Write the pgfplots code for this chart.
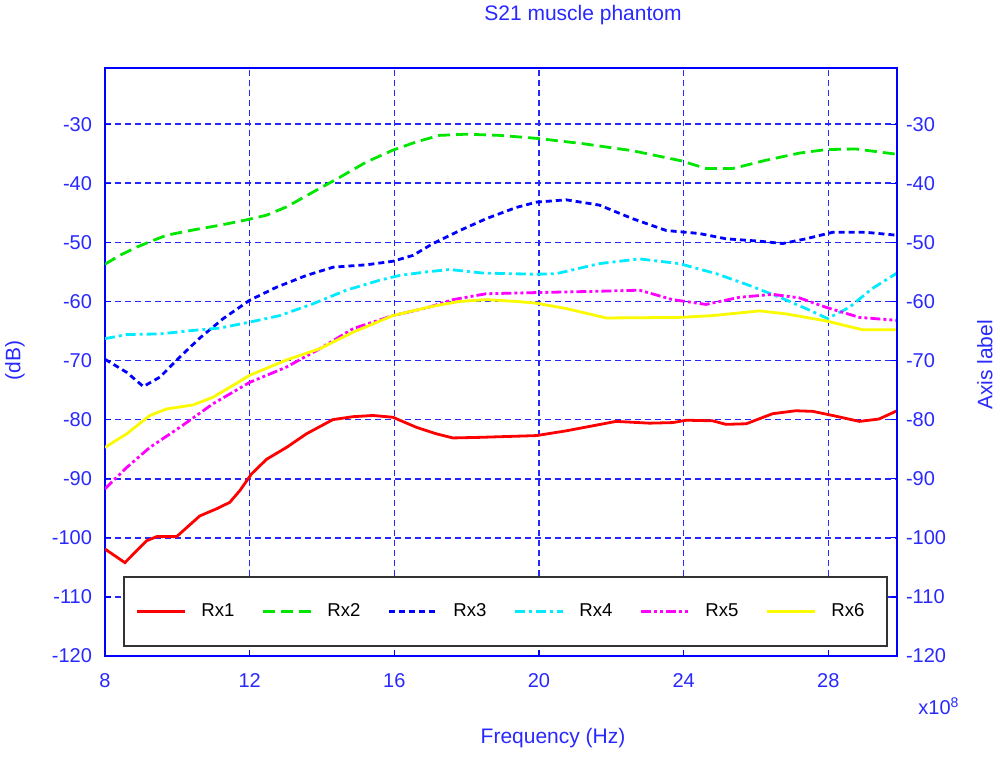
\documentclass[border=0pt]{standalone}
\usepackage{pgfplots}
\pgfplotsset{compat=1.18}
\usepackage{fontspec}
\setmainfont{Liberation Sans}
\definecolor{txtblue}{RGB}{40,40,255}
\definecolor{axblue}{RGB}{0,0,255}
\definecolor{cgreen}{RGB}{0,230,0}
\definecolor{ccyan}{RGB}{0,235,255}
\definecolor{cmag}{RGB}{255,0,255}
\definecolor{cyel}{RGB}{250,250,0}
\definecolor{cred}{RGB}{255,0,0}
\begin{document}
\begin{tikzpicture}
\path[use as bounding box] (-52.5pt,-50pt) rectangle (447.5pt,328pt);
\pgfplotsset{
  common/.style={
    at={(0,0)}, anchor=south west,
    scale only axis, width=396pt, height=294pt,
    xmin=8, xmax=29.9, ymin=-120, ymax=-20.5,
    ytick={-120,-110,...,-30},
    xtick={8,12,16,20,24,28},
    /pgf/number format/assume math mode=true,
    tick label style={font=\fontsize{10}{12}\selectfont, text=txtblue},
    axis line style={axblue, line width=0.9pt},
    tick style={axblue, line width=0.6pt},
    major tick length=3pt,
    tick align=inside,
  }
}
\begin{axis}[common,
  grid=major,
  major grid style={color=axblue!85, line width=0.8pt, dash pattern=on 3pt off 2pt},
  xticklabel style={yshift=-5pt},
  yticklabel style={xshift=-3pt},
  ytick pos=left, xtick pos=bottom,
  title={S21 muscle phantom},
  every axis title/.style={at={(axis description cs:0.6035,1.09)}, anchor=center, font=\fontsize{10.5}{12}\selectfont, text=txtblue},
  xlabel={Frequency (Hz)},
  xlabel style={at={(axis description cs:0.5657,-0.1395)}, anchor=center, font=\fontsize{10.5}{12}\selectfont, text=txtblue},
  ylabel={(dB)},
  ylabel style={at={(axis description cs:-0.1136,0.503)}, anchor=center, rotate=0, font=\fontsize{10.5}{12}\selectfont, text=txtblue},
  legend columns=6,
  legend image code/.code={\draw[#1] (0pt,0pt) -- (24pt,0pt);},
  legend style={at={(axis description cs:0.506,0.0757)}, anchor=center,
    draw=black!80, line width=1pt, fill=white,
    inner xsep=6pt, inner ysep=13.5pt,
    font=\fontsize{9.3}{11}\selectfont,
    nodes={inner sep=0pt, text width=22pt, align=left},
    /tikz/every odd column/.append style={column sep=7.3pt},
    /tikz/every even column/.append style={column sep=8.3pt}},
  every axis plot/.append style={line width=1.4pt},
]
\addplot[cred, solid] coordinates {
(8,-101.9) (8.55,-104.2) (9.15,-100.5) (9.43,-99.8) (9.98,-99.8) (10.62,-96.3) (11.08,-95.1) (11.45,-94.0) (11.73,-92.0) (12.05,-89.2) (12.47,-86.7) (13.02,-84.7) (13.57,-82.4) (14.3,-80.0) (14.86,-79.5) (15.41,-79.3) (15.96,-79.6) (16.61,-81.3) (17.16,-82.4) (17.62,-83.1) (18.36,-83.0) (19.93,-82.7) (20.75,-81.9) (22.13,-80.3) (23.06,-80.6) (23.70,-80.5) (24.07,-80.1) (24.80,-80.2) (25.17,-80.8) (25.73,-80.7) (26.46,-79.0) (27.1,-78.5) (27.57,-78.6) (28.12,-79.3) (28.86,-80.3) (29.4,-79.9) (29.9,-78.5)
};
\addlegendentry{Rx1}
\addplot[cgreen, dash pattern=on 6pt off 3pt] coordinates {
(8,-53.7) (8.41,-52.2) (8.88,-50.8) (9.24,-49.9) (9.70,-48.8) (10.44,-47.9) (11.18,-47.1) (11.91,-46.2) (12.47,-45.4) (13.02,-44.0) (13.75,-41.5) (14.49,-39.0) (15.23,-36.4) (15.96,-34.4) (16.61,-33.0) (17.25,-31.9) (17.99,-31.7) (18.91,-31.9) (19.93,-32.4) (21.21,-33.3) (22.59,-34.5) (23.93,-36.2) (24.62,-37.5) (25.36,-37.5) (26.28,-36.1) (27.2,-34.9) (27.94,-34.3) (28.76,-34.2) (29.9,-35.1)
};
\addlegendentry{Rx2}
\addplot[axblue, dash pattern=on 3pt off 2pt] coordinates {
(8,-69.8) (8.14,-70.3) (8.6,-72.0) (9.06,-74.4) (9.52,-72.8) (10.07,-69.4) (10.62,-66.2) (11.27,-62.9) (12.0,-59.8) (12.74,-57.6) (13.57,-55.6) (14.31,-54.2) (15.23,-53.8) (15.96,-53.2) (16.52,-52.2) (17.07,-50.2) (17.81,-48.0) (18.54,-46.0) (19.37,-44.1) (19.93,-43.2) (20.75,-42.8) (21.67,-43.7) (22.59,-46.0) (23.52,-48.0) (24.43,-48.5) (25.17,-49.4) (26.09,-49.8) (26.74,-50.2) (27.38,-49.4) (28.12,-48.3) (29.04,-48.3) (29.9,-48.8)
};
\addlegendentry{Rx3}
\addplot[ccyan, dash pattern=on 5pt off 2pt on 1.5pt off 2pt] coordinates {
(8,-66.3) (8.6,-65.6) (9.52,-65.5) (10.44,-64.9) (11.18,-64.5) (12.0,-63.5) (12.83,-62.4) (13.75,-60.4) (14.67,-58.1) (15.6,-56.4) (16.15,-55.6) (16.89,-55.0) (17.53,-54.6) (18.45,-55.2) (19.93,-55.4) (20.48,-55.3) (21.67,-53.6) (22.78,-52.8) (23.88,-53.6) (24.9,-55.3) (25.82,-57.3) (26.74,-59.5) (27.38,-61.2) (27.98,-62.9) (28.58,-61.0) (29.22,-57.8) (29.9,-55.2)
};
\addlegendentry{Rx4}
\addplot[cmag, dash pattern=on 5pt off 1.5pt on 1.5pt off 1.5pt on 1.5pt off 1.5pt] coordinates {
(8,-91.7) (8.6,-88.1) (9.24,-84.7) (10.07,-81.3) (10.99,-77.3) (12.0,-73.7) (13.02,-71.1) (13.94,-68.0) (14.86,-64.6) (15.96,-62.4) (16.89,-61.1) (17.62,-59.7) (18.54,-58.7) (19.93,-58.5) (21.49,-58.3) (22.78,-58.1) (23.7,-59.7) (24.62,-60.5) (25.54,-59.3) (26.46,-58.8) (27.2,-59.4) (27.94,-61.0) (28.86,-62.7) (29.9,-63.2)
};
\addlegendentry{Rx5}
\addplot[cyel, solid] coordinates {
(8,-84.7) (8.6,-82.4) (9.24,-79.3) (9.7,-78.2) (10.44,-77.5) (10.99,-76.2) (11.54,-74.2) (12.0,-72.5) (13.02,-69.9) (13.94,-68.0) (14.86,-65.2) (15.96,-62.4) (17.07,-60.8) (17.81,-60.0) (18.54,-59.7) (19.37,-60.0) (19.93,-60.3) (20.75,-61.2) (21.86,-62.8) (23.88,-62.7) (24.80,-62.4) (26.09,-61.6) (26.83,-62.1) (27.94,-63.3) (28.95,-64.8) (29.9,-64.8)
};
\addlegendentry{Rx6}
\end{axis}
\begin{axis}[common,
  axis x line=none,
  axis y line*=right,
  ytick pos=right,
  yticklabel pos=right,
  yticklabel style={xshift=1pt},
  ylabel={Axis label},
  ylabel style={at={(axis description cs:1.111,0.495)}, anchor=center, rotate=0, font=\fontsize{10.5}{12}\selectfont, text=txtblue},
]
\addplot[draw=none] coordinates {(8,-120) (29.9,-20.5)};
\end{axis}
\node[anchor=center, text=txtblue, font=\fontsize{10}{12}\selectfont] at (417pt,-25pt) {x10\textsuperscript{8}};
\end{tikzpicture}
\end{document}
